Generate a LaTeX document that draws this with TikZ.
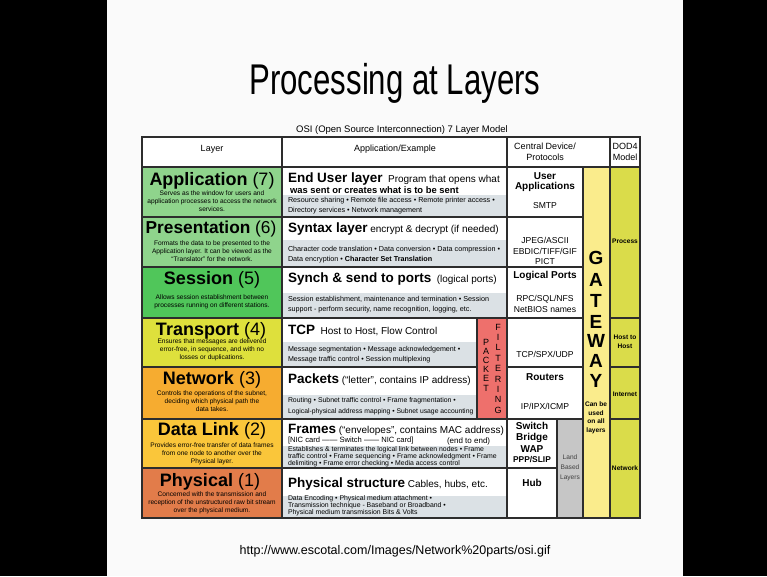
\documentclass[tikz,border=0pt]{standalone}
\usepackage{fontspec}
\usepackage{graphicx}
\setmainfont{Liberation Sans}
\definecolor{slidebg}{RGB}{250,250,250}
\definecolor{appgreen}{RGB}{143,212,140}
\definecolor{sesgreen}{RGB}{80,198,90}
\definecolor{trnyellow}{RGB}{222,224,60}
\definecolor{netorange}{RGB}{246,172,48}
\definecolor{dlgold}{RGB}{250,198,58}
\definecolor{phyred}{RGB}{226,124,74}
\definecolor{gwyellow}{RGB}{250,236,140}
\definecolor{dodolive}{RGB}{218,220,74}
\definecolor{pktred}{RGB}{238,112,108}
\definecolor{landgray}{RGB}{198,198,198}
\definecolor{bandgray}{RGB}{219,225,229}
\definecolor{rulecol}{RGB}{45,45,45}
\newcommand\fsz[1]{\fontsize{#1}{1.2\dimexpr#1pt\relax}\selectfont}
\newcommand\bigb{\fsz{13.5}\bfseries}
\newcommand\medr{\fsz{10}\mdseries}
\tikzset{
  rules/.style={draw=rulecol, line width=1.2pt},
  txt/.style={inner sep=0pt, outer sep=0pt, text=black},
  lname/.style={txt, font=\fsz{18}\bfseries},
  ldesc/.style={txt, align=center, font=\fontsize{6.6}{8}\selectfont},
  hdr/.style={txt, align=center, font=\fontsize{9}{10.5}\selectfont},
  apptxt/.style={txt, anchor=west},
  small/.style={txt, anchor=west, font=\fontsize{7.2}{8}\selectfont},
  smaller/.style={txt, anchor=west, font=\fontsize{6.9}{7}\selectfont},
  devb/.style={txt, align=center, font=\fontsize{10}{9.5}\selectfont\bfseries},
  devr/.style={txt, align=center, font=\fontsize{8.6}{10.5}\selectfont},
  gwletter/.style={txt, font=\fsz{19}\bfseries},
  pktletter/.style={txt, font=\fontsize{9}{10}\selectfont},
  dodtxt/.style={txt, align=center, font=\fontsize{6.6}{8.5}\selectfont\bfseries},
}
\begin{document}
\begin{tikzpicture}[x=1pt, y=-1pt]
\useasboundingbox (0,0) rectangle (767,576);
% slide on a black frame
\fill[black] (0,0) rectangle (767,576);
\fill[slidebg] (107,0) rectangle (683,576);

\node[txt, anchor=base, font=\fsz{43}] (title) at (395,94) {\scalebox{0.725}[1]{Processing at Layers}};
\node[txt, font=\fsz{12.5}] (src) at (395,551) {http://www.escotal.com/Images/Network\%20parts/osi.gif};
\node[txt, font=\fsz{9.5}] (caption) at (402,130) {OSI (Open Source Interconnection) 7 Layer Model};

% ---- cell fills ----
\fill[white] (142,137) rectangle (640,518);
\fill[appgreen]  (142,167) rectangle (282,267);
\fill[sesgreen]  (142,267) rectangle (282,318);
\fill[trnyellow] (142,318) rectangle (282,367);
\fill[netorange] (142,367) rectangle (282,419);
\fill[dlgold]    (142,419) rectangle (282,468);
\fill[phyred]    (142,468) rectangle (282,518);
% grey detail bands of the example column
\fill[bandgray] (282,195) rectangle (507,217);
\fill[bandgray] (282,240) rectangle (507,267);
\fill[bandgray] (282,293) rectangle (507,318);
\fill[bandgray] (282,342) rectangle (477,367);
\fill[bandgray] (282,395) rectangle (477,419);
\fill[bandgray] (282,446) rectangle (507,468);
\fill[bandgray] (282,496) rectangle (507,518);
\fill[pktred]   (477,318) rectangle (507,419);
\fill[landgray] (557,419) rectangle (583,518);
\fill[gwyellow] (583,167) rectangle (610,518);
\fill[dodolive] (610,167) rectangle (640,518);

% ---- grid ----
\draw[rules] (142,137) rectangle (640,518);
\draw[rules] (142,167) -- (640,167);
\draw[rules] (282,137) -- (282,518);
\draw[rules] (507,137) -- (507,518);
\draw[rules] (583,167) -- (583,518);
\draw[rules] (610,137) -- (610,518);
\foreach \yy in {217,267,318,419} \draw[rules] (142,\yy) -- (583,\yy);
\draw[rules] (142,367) -- (477,367);
\draw[rules] (507,367) -- (583,367);
\draw[rules] (142,468) -- (557,468);
\draw[rules] (477,318) -- (477,419);
\draw[rules] (557,419) -- (557,518);
\foreach \yy in {318,367,419} \draw[rules] (610,\yy) -- (640,\yy);

% ---- header ----
\node[hdr] (hLayer) at (212,149) {Layer};
\node[hdr] (hApp) at (395,149) {Application/Example};
\node[hdr] (hDev) at (545,152) {Central Device/\\Protocols};
\node[hdr] (hDod) at (625,152) {DOD4\\Model};

% ---- layer column ----
\node[lname] (n7) at (212,181) {Application \mdseries(7)};
\node[ldesc] (d7) at (212,201) {Serves as the window for users and\\application processes to access the network\\services.};
\node[lname, font=\fsz{17.3}\bfseries] (n6) at (211,229) {Presentation \mdseries(6)};
\node[ldesc] (d6) at (212,251) {Formats the data to be presented to the\\Application layer. It can be viewed as the\\``Translator'' for the network.};
\node[lname] (n5) at (212,280) {Session \mdseries(5)};
\node[ldesc] (d5) at (212,302) {Allows session establishment between\\processes running on different stations.};
\node[lname] (n4) at (211,331) {Transport \mdseries(4)};
\node[ldesc] (d4) at (212,350) {Ensures that messages are delivered\\error-free, in sequence, and with no\\losses or duplications.};
\node[lname] (n3) at (212,380) {Network \mdseries(3)};
\node[ldesc] (d3) at (212,401) {Controls the operations of the subnet,\\deciding which physical path the\\data takes.};
\node[lname] (n2) at (212,431) {Data Link \mdseries(2)};
\node[ldesc] (d2) at (212,454) {Provides error-free transfer of data frames\\from one node to another over the\\Physical layer.};
\node[lname] (n1) at (210,482) {Physical \mdseries(1)};
\node[ldesc] (d1) at (212,503) {Concerned with the transmission and\\reception of the unstructured raw bit stream\\over the physical medium.};

% ---- application / example column ----
\node[apptxt] (a7) at (288,179) {{\bigb End User layer}\ \ {\medr Program that opens what}};
\node[apptxt, font=\fsz{9.4}\bfseries] (a7b) at (290,190) {was sent or creates what is to be sent};
\node[small] (a7s1) at (288,201) {Resource sharing • Remote file access • Remote printer access •};
\node[small] (a7s2) at (288,211) {Directory services • Network management};

\node[apptxt] (a6) at (288,229) {{\bigb Syntax layer}\ {\medr encrypt \& decrypt (if needed)}};
\node[small] (a6s1) at (288,250) {Character code translation • Data conversion • Data compression •};
\node[small] (a6s2) at (288,260) {Data encryption • \textbf{Character Set Translation}};

\node[apptxt] (a5) at (288,279) {{\bigb Synch \& send to ports}\ \ {\medr (logical ports)}};
\node[small] (a5s1) at (288,299) {Session establishment, maintenance and termination • Session};
\node[small] (a5s2) at (288,310) {support - perform security, name recognition, logging, etc.};

\node[apptxt] (a4) at (288,330) {{\bigb TCP}\ \ {\medr Host to Host, Flow Control}};
\node[small, font=\fontsize{7.1}{8}\selectfont] (a4s1) at (288,350) {Message segmentation • Message acknowledgement •};
\node[small, font=\fontsize{7.1}{8}\selectfont] (a4s2) at (288,360) {Message traffic control • Session multiplexing};

\node[apptxt] (a3) at (288,380) {{\bigb Packets}\ {\medr (``letter'', contains IP address)}};
\node[small, font=\fontsize{6.9}{8}\selectfont] (a3s1) at (288,401) {Routing • Subnet traffic control • Frame fragmentation •};
\node[small, font=\fontsize{6.8}{8}\selectfont] (a3s2) at (288,412) {Logical-physical address mapping • Subnet usage accounting};

\node[apptxt] (a2) at (288,430) {{\bigb Frames}\ {\medr (``envelopes'', contains MAC address)}};
\node[apptxt, font=\fsz{7.6}] (a2b) at (288,441) {[NIC card —— Switch —— NIC card]};
\node[apptxt, font=\fsz{8}] (a2c) at (447,441) {(end to end)};
\node[smaller] (a2s1) at (288,450) {Establishes \& terminates the logical link between nodes • Frame};
\node[smaller] (a2s2) at (288,457) {traffic control • Frame sequencing • Frame acknowledgment • Frame};
\node[smaller] (a2s3) at (288,464) {delimiting • Frame error checking • Media access control};

\node[apptxt] (a1) at (288,484) {{\bigb Physical structure}\ {\medr Cables, hubs, etc.}};
\node[smaller] (a1s1) at (288,499) {Data Encoding • Physical medium attachment •};
\node[smaller] (a1s2) at (288,506) {Transmission technique - Baseband or Broadband •};
\node[smaller] (a1s3) at (288,513) {Physical medium transmission Bits \& Volts};

% ---- packet filtering ----
\foreach \ch [count=\i] in {P,A,C,K,E,T}
  \node[pktletter] (pk\i) at (486,{342+9.2*(\i-1)}) {\ch};
\foreach \ch [count=\i] in {F,I,L,T,E,R,I,N,G}
  \node[pktletter] (fl\i) at (498,{327+10.4*(\i-1)}) {\ch};

% ---- central device / protocols ----
\node[devb] (c7) at (545,182) {User\\Applications};
\node[devr] (c7b) at (545,206) {SMTP};
\node[devr] (c6) at (545,251) {JPEG/ASCII\\EBDIC/TIFF/GIF\\PICT};
\node[devb] (c5) at (545,276) {Logical Ports};
\node[devr] (c5b) at (545,304) {RPC/SQL/NFS\\NetBIOS names};
\node[devr] (c4) at (545,354) {TCP/SPX/UDP};
\node[devb] (c3) at (545,377) {Routers};
\node[devr] (c3b) at (545,406) {IP/IPX/ICMP};
\node[devb, font=\fontsize{10}{11.5}\selectfont\bfseries] (c2) at (532,437) {Switch\\Bridge\\WAP};
\node[devb, font=\fontsize{8.4}{9}\selectfont\bfseries] (c2b) at (532,460) {PPP/SLIP};
\node[devb] (c1) at (532,483) {Hub};
\node[txt, align=center, font=\fontsize{6.6}{10}\selectfont, text=black!75] (land) at (570,468) {Land\\Based\\Layers};

% ---- gateway ----
\foreach \ch/\yy [count=\i] in {G/258,A/280,T/301,E/322,W/341,A/361,Y/381}
  \node[gwletter] (gw\i) at (596,\yy) {\ch};
\node[dodtxt] (gwnote) at (596,418) {Can be\\used\\on all\\layers};

% ---- DOD4 model ----
\node[dodtxt] (p1) at (625,241) {Process};
\node[dodtxt] (p2) at (625,342) {Host to\\Host};
\node[dodtxt] (p3) at (625,394) {Internet};
\node[dodtxt] (p4) at (625,468) {Network};
\end{tikzpicture}
\end{document}
